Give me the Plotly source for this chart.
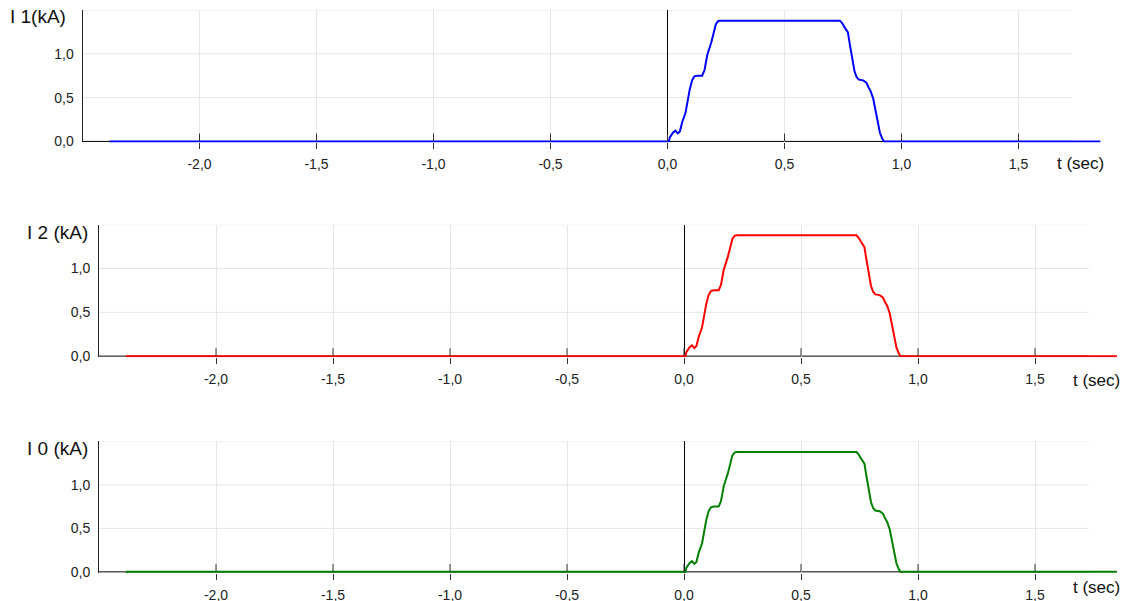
import plotly.graph_objects as go

# ---- data ----
t = [-2.385, 0.0, 0.006, 0.010, 0.016, 0.024, 0.034, 0.044, 0.053, 0.063, 0.077, 0.087,
     0.095, 0.105, 0.115, 0.127, 0.148, 0.158, 0.170, 0.187, 0.198, 0.207, 0.217, 0.227,
     0.737, 0.747, 0.757, 0.771, 0.779, 0.789, 0.799, 0.808, 0.818, 0.836, 0.850, 0.860,
     0.868, 0.879, 0.889, 0.899, 0.908, 0.918, 0.925, 1.85]
i1 = [0.0, 0.0, 0.0, 0.046, 0.077, 0.103, 0.123, 0.092, 0.115, 0.222, 0.326, 0.479,
      0.594, 0.697, 0.743, 0.751, 0.751, 0.812, 0.988, 1.130, 1.264, 1.340, 1.375, 1.379,
      1.379, 1.348, 1.302, 1.245, 1.111, 0.958, 0.804, 0.735, 0.705, 0.697, 0.670, 0.613,
      0.575, 0.490, 0.345, 0.192, 0.096, 0.031, 0.0, 0.0]
i2 = [0.0, 0.0, 0.0, 0.046, 0.077, 0.103, 0.123, 0.092, 0.115, 0.222, 0.326, 0.479,
      0.594, 0.697, 0.743, 0.751, 0.751, 0.812, 0.988, 1.130, 1.264, 1.340, 1.375, 1.379,
      1.379, 1.348, 1.302, 1.245, 1.111, 0.958, 0.804, 0.735, 0.705, 0.697, 0.670, 0.613,
      0.575, 0.490, 0.345, 0.192, 0.096, 0.031, 0.0, 0.0]
i0 = [0.0, 0.0, 0.0, 0.046, 0.077, 0.103, 0.123, 0.092, 0.115, 0.222, 0.326, 0.479,
      0.594, 0.697, 0.743, 0.751, 0.751, 0.812, 0.988, 1.130, 1.264, 1.340, 1.375, 1.379,
      1.379, 1.348, 1.302, 1.245, 1.111, 0.958, 0.804, 0.735, 0.705, 0.697, 0.670, 0.613,
      0.575, 0.490, 0.345, 0.192, 0.096, 0.031, 0.0, 0.0]

x_ticks = [-2.0, -1.5, -1.0, -0.5, 0.0, 0.5, 1.0, 1.5]
x_tick_text = ["-2,0", "-1,5", "-1,0", "-0,5", "0,0", "0,5", "1,0", "1,5"]
y_ticks = [0.0, 0.5, 1.0]
y_tick_text = ["0,0", "0,5", "1,0"]
y_grid = [0.5, 1.0, 1.5]
y_titles = ["I 1(kA)", "I 2 (kA)", "I 0 (kA)"]
x_title = "t (sec)"
series = [i1, i2, i0]
colors = ["#0000ff", "#ff0000", "#008000"]

# ---- layout geometry ----
W = 1129
H_REF = 601      # positions below are measured in the 601-px-tall reference
H_LAYOUT = 610   # figure height (compensates for the capture's vertical fit)
X_MIN, X_MAX, X_GRID_END = -2.5, 1.87, 1.73
Y_MIN, Y_MAX = -0.012, 1.5
panels = [
    dict(left=82.5, top=10, bottom=142, ytr=68, xtr=1106, xty=163, yty=16),
    dict(left=99, top=224, bottom=356, ytr=90, xtr=1122, xty=379, yty=232),
    dict(left=99, top=440, bottom=571, ytr=90, xtr=1122, xty=586, yty=447),
]
PX_PER_SEC = 234.0

font_family = "Liberation Sans, Arial, Helvetica, sans-serif"
fig = go.Figure()
shapes = []
annotations = []
layout = {}

for k, (p, ys, col, ytitle) in enumerate(zip(panels, series, colors, y_titles)):
    n = "" if k == 0 else str(k + 1)
    xa, ya = "x" + n, "y" + n
    right = p["left"] + (X_MAX - X_MIN) * PX_PER_SEC
    layout["xaxis" + n] = dict(
        domain=[p["left"] / W, right / W], range=[X_MIN, X_MAX], anchor=ya,
        tickmode="array", tickvals=x_ticks, ticktext=x_tick_text,
        showgrid=True, gridcolor="#e6e6e6", gridwidth=1,
        zeroline=True, zerolinecolor="#000000", zerolinewidth=1,
        showline=False, ticks="outside", ticklen=6, tickcolor="#333333", tickwidth=1,
        tickfont=dict(family=font_family, size=14, color="#222222"),
        ticklabelstandoff=3, fixedrange=True,
    )
    layout["yaxis" + n] = dict(
        domain=[1 - p["bottom"] / H_REF, 1 - p["top"] / H_REF], range=[Y_MIN, Y_MAX], anchor=xa,
        tickmode="array", tickvals=y_ticks, ticktext=y_tick_text,
        showgrid=False, zeroline=False,
        showline=True, linecolor="#222222", linewidth=1, ticks="",
        tickfont=dict(family=font_family, size=14, color="#222222"),
        ticklabelstandoff=5, fixedrange=True,
    )
    for g in y_grid:
        shapes.append(dict(type="line", xref=xa, yref=ya, x0=X_MIN, x1=X_GRID_END, y0=g, y1=g,
                           line=dict(color="#e6e6e6", width=1), layer="below"))
    shapes.append(dict(type="line", xref=xa, yref=ya, x0=X_MIN, x1=X_GRID_END, y0=0, y1=0,
                       line=dict(color="#000000", width=1), layer="below"))
    for tv in x_ticks:
        shapes.append(dict(type="line", xref=xa, yref=ya, x0=tv, x1=tv, y0=0, y1=0.09,
                           line=dict(color="#333333", width=1), layer="above"))
    fig.add_trace(go.Scatter(x=t, y=ys, xaxis=xa, yaxis=ya, mode="lines",
                             line=dict(color=col, width=2),
                             hoverinfo="skip", showlegend=False))
    annotations.append(dict(text=ytitle, xref="paper", yref="paper", x=p["ytr"] / W, y=1 - p["yty"] / H_REF,
                            xanchor="right", yanchor="middle", showarrow=False,
                            font=dict(family=font_family, size=19, color="#111111")))
    annotations.append(dict(text=x_title, xref="paper", yref="paper", x=p["xtr"] / W, y=1 - p["xty"] / H_REF,
                            xanchor="right", yanchor="middle", showarrow=False,
                            font=dict(family=font_family, size=17, color="#111111")))

fig.update_layout(
    width=W, height=H_LAYOUT, margin=dict(l=0, r=0, t=0, b=0),
    paper_bgcolor="white", plot_bgcolor="white",
    separators=",.", shapes=shapes, annotations=annotations, showlegend=False,
    **layout,
)

fig.write_html("out.html", config={"displayModeBar": False},
               post_script="document.body.style.margin='0';")
